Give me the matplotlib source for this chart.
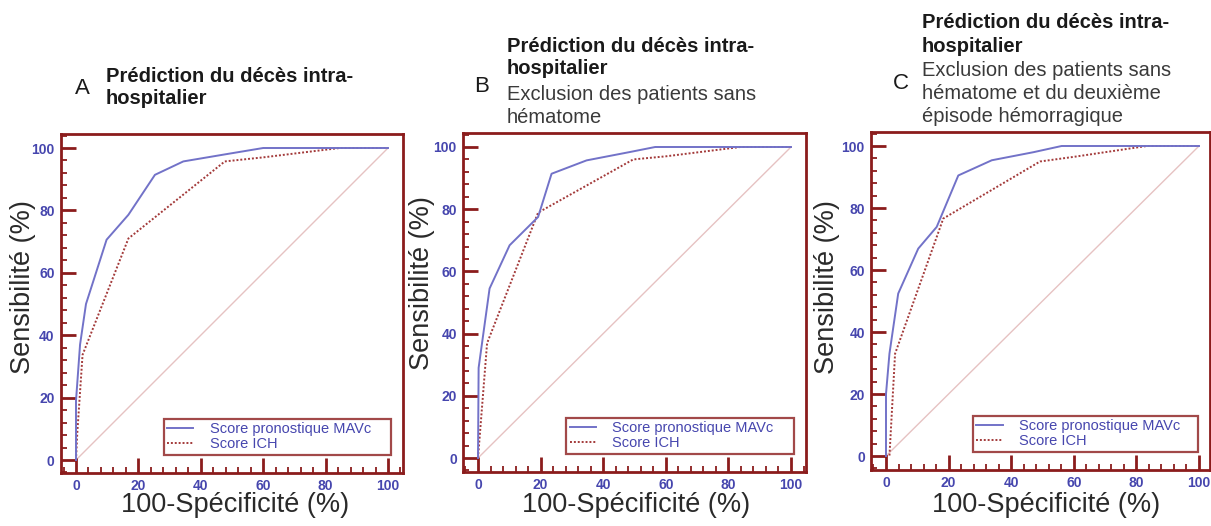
import matplotlib
matplotlib.use("Agg")
import matplotlib.pyplot as plt
from matplotlib.ticker import MultipleLocator

plt.rcParams['font.family'] = ['Liberation Sans', 'DejaVu Sans']

# ROC curves (100-specificity %, sensitivity %) for the three analyses
a_mavc_x = [0, 0, 1.3, 3.2, 9.8, 16.8, 25.3, 34.4, 48, 60, 100]
a_mavc_y = [0, 19, 37, 50, 70.6, 78.6, 91.4, 95.7, 98, 100, 100]
a_ich_x = [0, 0.4, 2.1, 16.8, 47.7, 60, 84.5, 100]
a_ich_y = [0, 8.5, 33.7, 71, 95.7, 97, 100, 100]

b_mavc_x = [0, 0.2, 3.7, 10.1, 19.2, 23.5, 34.7, 48.6, 56.6, 100]
b_mavc_y = [0, 29, 54.5, 68.4, 77.5, 91.4, 95.7, 98.4, 100, 100]
b_ich_x = [0, 2.9, 19.2, 49.6, 60, 83.8, 100]
b_ich_y = [0, 36.9, 78.9, 96, 97, 100, 100]

c_mavc_x = [0, 0, 1.1, 3.9, 10.3, 16.2, 23.1, 33.8, 47.1, 56.1, 100]
c_mavc_y = [0, 20, 33, 52.4, 66.9, 73.9, 90.5, 95.4, 98, 100, 100]
c_ich_x = [0, 1.1, 2.9, 18.3, 49.2, 60, 83.3, 100]
c_ich_y = [0, 0, 33, 76.6, 95, 96.5, 100, 100]

panel_letters = ['A', 'B', 'C']
bold_lines = [
    ['Prédiction du décès intra-', 'hospitalier'],
    ['Prédiction du décès intra-', 'hospitalier'],
    ['Prédiction du décès intra-', 'hospitalier'],
]
plain_lines = [
    [],
    ['Exclusion des patients sans', 'hématome'],
    ['Exclusion des patients sans', 'hématome et du deuxième', 'épisode hémorragique'],
]
series_labels = ['Score pronostique MAVc', 'Score ICH']
x_label = '100-Spécificité (%)'
y_label = 'Sensibilité (%)'

W, H = 1211, 526
DARKRED = '#8b1c1c'
BLUE_TXT = '#4646ae'

# pixel layout: axes box (l, t, r, b), data 0/100 positions, text anchors
layout = [
    dict(box=(61, 134, 403, 473), x0=76, x100=388, y100=148, y0=460,
         letter=(75, 94), text_x=106, baselines=[82, 104],
         ylab=(23, 287), xlab=(235, 505)),
    dict(box=(463, 133, 806, 472), x0=478, x100=791, y100=147, y0=458,
         letter=(474, 92), text_x=507, baselines=[52, 74, 100, 123],
         ylab=(422, 283), xlab=(636, 505)),
    dict(box=(871, 132, 1210, 470), x0=886, x100=1199, y100=146, y0=456,
         letter=(893, 89), text_x=922, baselines=[28, 52, 76, 99, 122],
         ylab=(827, 287), xlab=(1046, 505)),
]
curves = [
    (a_mavc_x, a_mavc_y, a_ich_x, a_ich_y),
    (b_mavc_x, b_mavc_y, b_ich_x, b_ich_y),
    (c_mavc_x, c_mavc_y, c_ich_x, c_ich_y),
]

fig = plt.figure(figsize=(W / 100, H / 100), dpi=100)


def fx(px):
    return px / W


def fy(py):
    return 1 - py / H


for i, lay in enumerate(layout):
    l, t, r, b = lay['box']
    ax = fig.add_axes([fx(l), fy(b), (r - l) / W, (b - t) / H])
    sx = (lay['x100'] - lay['x0']) / 100
    sy = (lay['y0'] - lay['y100']) / 100
    ax.set_xlim((l - lay['x0']) / sx, (r - lay['x0']) / sx)
    ax.set_ylim(-(b - lay['y0']) / sy, 100 + (lay['y100'] - t) / sy)

    mx, my, ix, iy = curves[i]
    ax.plot([0, 100], [0, 100], color='#e6c2c2', lw=1.0, zorder=1)
    ax.plot(mx, my, color='#7272c8', lw=1.4, label=series_labels[0], zorder=3)
    ax.plot(ix, iy, color='#a33a3a', lw=1.4, ls=(0, (1, 1)),
            label=series_labels[1], zorder=2)

    for s in ax.spines.values():
        s.set_color(DARKRED)
        s.set_linewidth(2.0)
    ax.xaxis.set_major_locator(MultipleLocator(20))
    ax.xaxis.set_minor_locator(MultipleLocator(4))
    ax.yaxis.set_major_locator(MultipleLocator(20))
    ax.yaxis.set_minor_locator(MultipleLocator(4))
    ax.tick_params(which='both', direction='in', color=DARKRED,
                   top=False, right=False)
    ax.tick_params(which='major', length=11, width=2.0, pad=4.5,
                   labelsize=10, labelcolor=BLUE_TXT)
    ax.tick_params(which='minor', length=4, width=1.3)
    for lab in ax.get_xticklabels() + ax.get_yticklabels():
        lab.set_fontweight('bold')

    leg = ax.legend(loc='lower left', bbox_to_anchor=(0.30, 0.054, 0.665, 0.13),
                    mode='expand', fancybox=False, fontsize=10.5,
                    handlelength=1.8, handletextpad=1.1, borderpad=0.25,
                    labelspacing=0.05, borderaxespad=0)
    leg.get_frame().set_edgecolor(DARKRED)
    leg.get_frame().set_linewidth(1.6)
    for txt in leg.get_texts():
        txt.set_color(BLUE_TXT)

    # panel letter and title block
    fig.text(fx(lay['letter'][0]), fy(lay['letter'][1]), panel_letters[i],
             fontsize=16, color='#1a1a1a', va='baseline', ha='left')
    lines = [(s, 'bold') for s in bold_lines[i]] + \
            [(s, 'normal') for s in plain_lines[i]]
    for (s, w), base in zip(lines, lay['baselines']):
        fig.text(fx(lay['text_x']), fy(base), s, fontsize=14.5, fontweight=w,
                 color='#1a1a1a' if w == 'bold' else '#3a3a3a',
                 va='baseline', ha='left')

    fig.text(fx(lay['ylab'][0]), fy(lay['ylab'][1]), y_label, rotation=90,
             fontsize=19.5, color='#2a2a2a', ha='center', va='center')
    fig.text(fx(lay['xlab'][0]), fy(lay['xlab'][1]), x_label,
             fontsize=19.5, color='#2a2a2a', ha='center', va='center')

fig.savefig('out.png', dpi=100)
